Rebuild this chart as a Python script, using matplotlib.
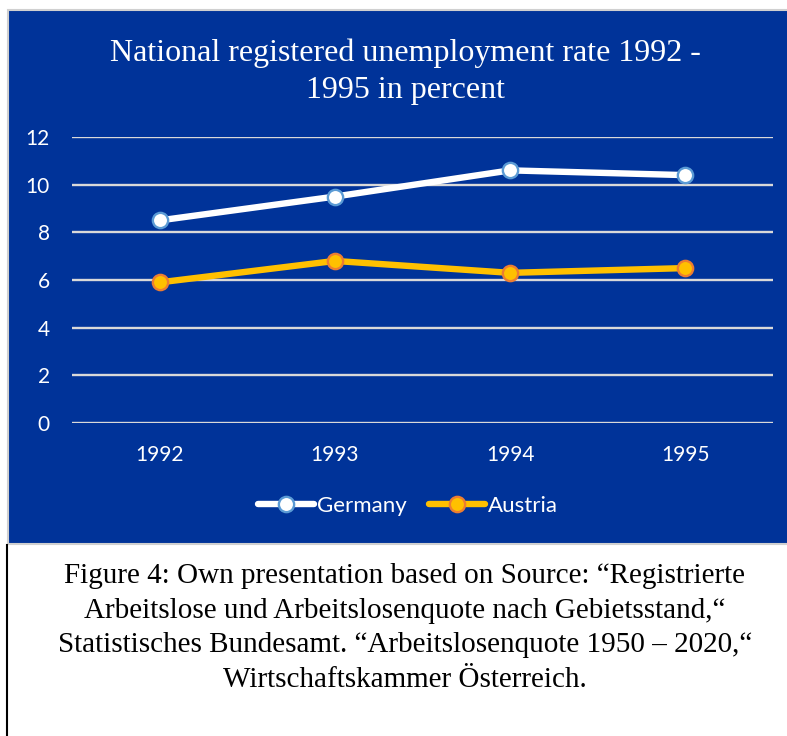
import matplotlib
matplotlib.use("Agg")
import matplotlib.pyplot as plt
from matplotlib.patches import Rectangle
from matplotlib.lines import Line2D

years = ["1992", "1993", "1994", "1995"]
germany = [8.5, 9.5, 10.6, 10.4]
austria = [5.9, 6.8, 6.3, 6.5]
yticks = [0, 2, 4, 6, 8, 10, 12]
title = "National registered unemployment rate 1992 -\n1995 in percent"
caption = ("Figure 4: Own presentation based on Source: \u201cRegistrierte\n"
           "Arbeitslose und Arbeitslosenquote nach Gebietsstand,\u201c\n"
           "Statistisches Bundesamt. \u201cArbeitslosenquote 1950 \u2013 2020,\u201c\n"
           "Wirtschaftskammer \u00d6sterreich.")

W, H = 787, 736
BLUE = "#003399"
fig = plt.figure(figsize=(W / 100, H / 100), dpi=100)
fig.patch.set_facecolor("white")

def fx(px):
    return px / W

def fy(py):
    return 1 - py / H

# blue chart panel
fig.patches.append(Rectangle((fx(8), fy(544)), 1 - fx(8) + 0.01, fy(10) - fy(544),
                             transform=fig.transFigure, facecolor=BLUE,
                             edgecolor="#D0D0D0", linewidth=1.5, zorder=-5))
# black vertical line at left below panel
fig.lines.append(Line2D([fx(7), fx(7)], [fy(545), 0], transform=fig.transFigure,
                        color="black", linewidth=1.5, zorder=-4))

ax = fig.add_axes([fx(72), fy(423), fx(773) - fx(72), fy(137) - fy(423)])
ax.set_zorder(2)
ax.set_facecolor("none")
x = list(range(len(years)))
ax.plot(x, germany, color="white", linewidth=4.6, marker="o", markersize=11,
        markerfacecolor="white", markeredgecolor="#5B9BD5", markeredgewidth=1.7,
        label="Germany", zorder=4, solid_capstyle="round")
ax.plot(x, austria, color="#FFC000", linewidth=4.6, marker="o", markersize=11,
        markerfacecolor="#FFC000", markeredgecolor="#ED7D31", markeredgewidth=1.7,
        label="Austria", zorder=4, solid_capstyle="round")

ax.set_xlim(-0.5, len(years) - 0.5)
ax.set_ylim(0, 12)
ax.set_yticks(yticks)
ax.set_xticks(x)
ax.set_xticklabels(years)
ax.yaxis.grid(True, color="#D9D9D9", linewidth=1.7, zorder=1)
ax.set_axisbelow(True)
for s in ax.spines.values():
    s.set_visible(False)
ax.tick_params(axis="both", length=0, colors="white", labelsize=15)
ax.tick_params(axis="y", pad=16)
ax.tick_params(axis="x", pad=16)
for lab in ax.get_xticklabels() + ax.get_yticklabels():
    lab.set_fontfamily("Lato")
    lab.set_color("white")

fig.text(fx(405), fy(71.5), title, ha="center", va="center", color="white",
         fontsize=23, family="Liberation Serif", linespacing=1.38)

leg = fig.legend(loc="center", bbox_to_anchor=(fx(408), fy(506)), ncol=2,
                 frameon=False, prop={"family": "Lato", "size": 16},
                 handlelength=2.5, columnspacing=1.0, handletextpad=0.15)
for t in leg.get_texts():
    t.set_color("white")

fig.text(fx(405), fy(628), caption, ha="center", va="center", color="black",
         fontsize=21, family="Liberation Serif", linespacing=1.43)

fig.savefig("out.png", dpi=100, facecolor="white")
